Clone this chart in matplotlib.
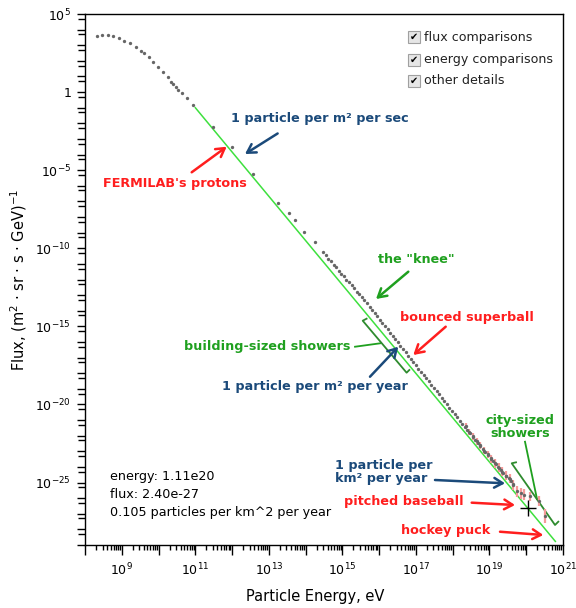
import numpy as np
import matplotlib
matplotlib.use('Agg')
import matplotlib.pyplot as plt
from matplotlib.ticker import FixedLocator, FuncFormatter, NullFormatter
from matplotlib.patches import Rectangle

plt.rcParams['font.family'] = ['DejaVu Sans']
plt.rcParams['mathtext.default'] = 'regular'

# flux spectrum (log10 of eV and of flux)
log_energy = [8.32, 8.47, 8.62, 8.77, 8.93, 9.07, 9.22, 9.38, 9.52, 9.61,
              9.74, 9.86, 9.99, 10.11, 10.25, 10.34, 10.40, 10.48, 10.54, 10.65,
              10.77, 10.93, 11.47, 11.99, 12.58, 13.26, 13.56, 13.70, 13.96, 14.26,
              14.48, 14.55, 14.62, 14.69, 14.76, 14.83, 14.90, 14.97, 15.04, 15.11,
              15.18, 15.25, 15.32, 15.39, 15.46, 15.53, 15.60, 15.67, 15.74, 15.81,
              15.88, 15.95, 16.02, 16.09, 16.16, 16.23, 16.30, 16.37, 16.44, 16.51,
              16.58, 16.65, 16.72, 16.79, 16.86, 16.93, 17.00, 17.07, 17.14, 17.21,
              17.28, 17.35, 17.42, 17.49, 17.56, 17.63, 17.70, 17.77, 17.84, 17.91,
              17.98, 18.05, 18.12, 18.19, 18.26, 18.33, 18.40, 18.47, 18.54, 18.61,
              18.68, 18.75, 18.82, 18.89, 18.96, 19.03, 19.10, 19.17, 19.24, 19.31,
              19.38, 19.45, 19.52, 19.59, 19.65]
log_flux = [3.61, 3.66, 3.64, 3.59, 3.49, 3.29, 3.13, 2.91, 2.63, 2.49,
            2.23, 1.91, 1.58, 1.30, 0.95, 0.67, 0.52, 0.34, 0.13, -0.08,
            -0.39, -0.82, -2.23, -3.53, -5.24, -7.07, -7.75, -8.22, -8.93, -9.63,
            -10.27, -10.45, -10.66, -10.84, -11.05, -11.22, -11.43, -11.62, -11.80, -12.00,
            -12.19, -12.38, -12.56, -12.77, -12.94, -13.13, -13.31, -13.52, -13.73, -13.95,
            -14.14, -14.36, -14.57, -14.77, -14.99, -15.19, -15.41, -15.61, -15.83, -16.03,
            -16.24, -16.46, -16.66, -16.87, -17.08, -17.29, -17.49, -17.71, -17.91, -18.12,
            -18.33, -18.53, -18.75, -18.95, -19.16, -19.36, -19.58, -19.78, -20.00, -20.20,
            -20.41, -20.61, -20.83, -21.03, -21.24, -21.45, -21.65, -21.86, -22.06, -22.27,
            -22.46, -22.67, -22.86, -23.07, -23.25, -23.45, -23.63, -23.82, -24.00, -24.18,
            -24.36, -24.55, -24.73, -24.92, -25.10]

# highest-energy points with error bars
log_energy_hi = [18.35, 18.45, 18.55, 18.65, 18.75, 18.85, 18.95, 19.05, 19.15, 19.25,
                 19.35, 19.45, 19.55, 19.65, 19.75, 19.85, 19.93, 20.09, 20.36, 20.50]
log_flux_hi = [-21.40, -21.75, -22.05, -22.35, -22.62, -22.95, -23.20, -23.50, -23.78, -24.05,
               -24.30, -24.55, -24.75, -25.15, -25.55, -25.70, -25.77, -25.88, -26.20, -27.16]
log_err_hi = [0.20, 0.20, 0.22, 0.22, 0.22, 0.25, 0.25, 0.25, 0.28, 0.28,
              0.30, 0.30, 0.30, 0.32, 0.35, 0.35, 0.35, 0.30, 0.32, 0.45]

# E^-2.84 reference line
line_energy = [1e11, 6.2e20]
line_flux = [1e-1, 1.7e-29]

cursor_energy = [1.11e20]
cursor_flux = [2.40e-27]

x_labels = [9, 11, 13, 15, 17, 19, 21]
y_labels = [5, 0, -5, -10, -15, -20, -25]

blue = '#1b4a7a'
red = '#ff1e1e'
green = '#1fa01f'
dkgreen = '#2e8b2e'

fig = plt.figure(figsize=(5.76, 6.08), dpi=100)
ax = fig.add_axes([85/576, 1 - 545/608, 478/576, 531/608])

E = 10 ** np.array(log_energy)
F = 10 ** np.array(log_flux)
Eh = 10 ** np.array(log_energy_hi)
Fh = 10 ** np.array(log_flux_hi)
lo = Fh - 10 ** (np.array(log_flux_hi) - np.array(log_err_hi))
hi = 10 ** (np.array(log_flux_hi) + np.array(log_err_hi)) - Fh

ax.plot(line_energy, line_flux, color='#3ee03e', lw=1.1, zorder=2)
ax.errorbar(Eh, Fh, yerr=[lo, hi], fmt='none', ecolor='#f59a9a', elinewidth=1.6, zorder=3)
ax.plot(E, F, 'o', color='#666666', ms=2.4, mew=0, zorder=4)
ax.plot(Eh, Fh, 'o', color='#666666', ms=2.4, mew=0, zorder=4)
ax.plot(cursor_energy, cursor_flux, '+', color='black', ms=12, mew=1, zorder=5)

ax.set_xscale('log')
ax.set_yscale('log')
ax.set_xlim(1e8, 1e21)
ax.set_ylim(1e-29, 1e5)

ax.xaxis.set_major_locator(FixedLocator([10.0 ** k for k in range(8, 22)]))
ax.xaxis.set_minor_locator(FixedLocator([m * 10.0 ** k for k in range(8, 21) for m in range(2, 10)]))
ax.xaxis.set_major_formatter(FuncFormatter(
    lambda v, p: r'$10^{%d}$' % round(np.log10(v)) if round(np.log10(v)) in x_labels else ''))
ax.xaxis.set_minor_formatter(NullFormatter())

ax.yaxis.set_major_locator(FixedLocator([10.0 ** k for k in range(-29, 6)]))
ax.yaxis.set_minor_locator(FixedLocator([5 * 10.0 ** k for k in range(-29, 5)]))


def ylab(v, p):
    k = round(np.log10(v))
    if k not in y_labels:
        return ''
    return '1' if k == 0 else r'$10^{%d}$' % k


ax.yaxis.set_major_formatter(FuncFormatter(ylab))
ax.yaxis.set_minor_formatter(NullFormatter())

ax.tick_params(axis='x', which='major', length=7, width=1, pad=5, labelsize=9)
ax.tick_params(axis='x', which='minor', length=3.5, width=1)
ax.tick_params(axis='y', which='major', length=6, width=1, pad=4, labelsize=9)
ax.tick_params(axis='y', which='minor', length=5, width=1)
for s in ax.spines.values():
    s.set_linewidth(1)

ax.set_xlabel('Particle Energy, eV', fontsize=10.5)
ax.xaxis.set_label_coords(0.481, -0.083)
ax.set_ylabel('Flux, (m$^2$ · sr · s · GeV)$^{-1}$', fontsize=10.5)
ax.yaxis.set_label_coords(-0.118, 0.5)


def arrow(tail, head, color):
    ax.annotate('', xy=head, xytext=tail, xycoords='axes fraction', textcoords='axes fraction',
                arrowprops=dict(arrowstyle='->,head_length=0.6,head_width=0.35', color=color, lw=1.8,
                                shrinkA=0, shrinkB=0))


def seg(pts, color, lw=1.3):
    xs = [p[0] for p in pts]
    ys = [p[1] for p in pts]
    ax.plot(xs, ys, color=color, lw=lw, transform=ax.transAxes, clip_on=False)


bold = dict(fontsize=9.2, fontweight='bold', transform=ax.transAxes, va='center')

ax.text(0.4916, 0.8041, '1 particle per m² per sec', color=blue, ha='center', **bold)
arrow((0.403, 0.775), (0.3347, 0.7363), blue)

ax.text(0.1883, 0.6817, "FERMILAB's protons", color=red, ha='center', **bold)
arrow((0.2232, 0.7019), (0.2964, 0.7501), red)

ax.text(0.6939, 0.538, 'the "knee"', color=green, ha='center', **bold)
arrow((0.6764, 0.5147), (0.6088, 0.4633), green)

ax.text(0.7985, 0.4281, 'bounced superball', color=red, ha='center', **bold)
arrow((0.7546, 0.4111), (0.6868, 0.3578), red)

ax.text(0.556, 0.3734, 'building-sized showers', color=green, ha='right', **bold)
seg([(0.5649, 0.3734), (0.6172, 0.3798)], green)
seg([(0.5891, 0.4262), (0.581, 0.4224), (0.6728, 0.3245), (0.6785, 0.3296)], dkgreen)

ax.text(0.4812, 0.2976, '1 particle per m² per year', color=blue, ha='center', **bold)
arrow((0.5962, 0.3169), (0.6554, 0.3734), blue)

ax.text(0.91, 0.2222, 'city-sized\nshowers', color=green, ha='center', linespacing=1.0, **bold)
seg([(0.9205, 0.1945), (0.9456, 0.0866)], green)
seg([(0.9017, 0.1557), (0.8927, 0.1539), (0.9833, 0.0377), (0.9902, 0.0439)], dkgreen)

ax.text(0.523, 0.1375, '1 particle per\nkm² per year', color=blue, ha='left', linespacing=1.0, **bold)
arrow((0.7322, 0.1224), (0.8787, 0.1162), blue)

ax.text(0.6674, 0.081, 'pitched baseball', color=red, ha='center', **bold)
arrow((0.809, 0.0797), (0.8996, 0.0753), red)

ax.text(0.7552, 0.0282, 'hockey puck', color=red, ha='center', **bold)
arrow((0.8682, 0.025), (0.9588, 0.0188), red)

info = ['energy: 1.11e20', 'flux: 2.40e-27', '0.105 particles per km^2 per year']
for i, line in enumerate(info):
    ax.text(0.0523, 0.1299 - i * 0.0339, line, fontsize=9.2, va='center', ha='left',
            transform=ax.transAxes)

checks = ['flux comparisons', 'energy comparisons', 'other details']
check_y = [37, 60, 81]
for name, py in zip(checks, check_y):
    yc = 1 - py / 608
    fig.patches.append(Rectangle((408 / 576, yc - 6 / 608), 12 / 576, 12 / 608,
                                 transform=fig.transFigure, facecolor='#e6e6e6',
                                 edgecolor='#a0a0a0', lw=0.8))
    fig.text(414 / 576, yc, '✔', fontsize=7, ha='center', va='center')
    fig.text(424 / 576, yc, name, fontsize=9.1, ha='left', va='center', color='#222222')

fig.savefig('out.png', dpi=100)
